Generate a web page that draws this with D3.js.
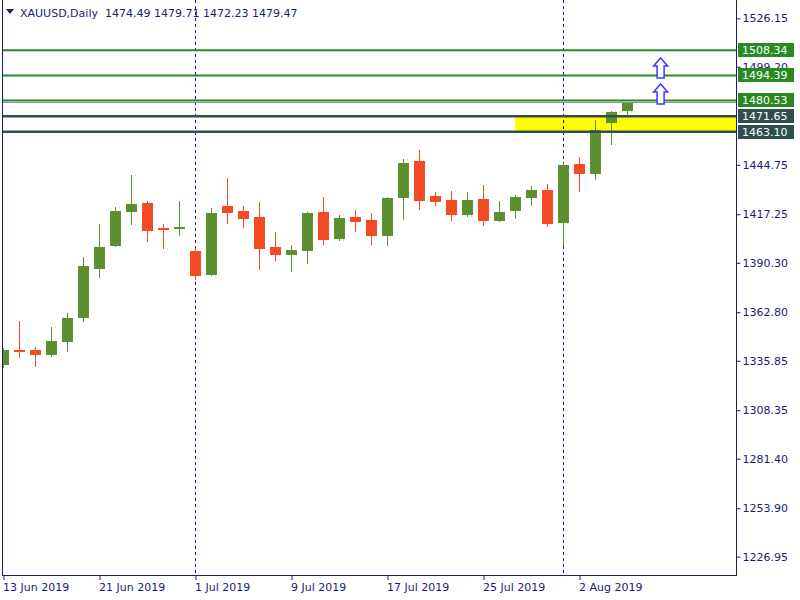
<!DOCTYPE html>
<html>
<head>
<meta charset="utf-8">
<script src="https://cdn.jsdelivr.net/npm/d3@7"></script>
<style>
  html, body { margin: 0; padding: 0; background: #ffffff; }
  svg { display: block; }
  text { font-family: "DejaVu Sans", Verdana, sans-serif; font-size: 11px; }
</style>
</head>
<body>
<svg id="chart" width="800" height="600"></svg>
<script>
// ---------- DATA ----------
const symbolTitle = "XAUUSD,Daily";
const titleValues = ["1474.49", "1479.71", "1472.23", "1479.47"];

const dates = ["13 Jun","14 Jun","17 Jun","18 Jun","19 Jun","20 Jun","21 Jun","24 Jun","25 Jun","26 Jun",
  "27 Jun","28 Jun","1 Jul","2 Jul","3 Jul","4 Jul","5 Jul","8 Jul","9 Jul","10 Jul",
  "11 Jul","12 Jul","15 Jul","16 Jul","17 Jul","18 Jul","19 Jul","22 Jul","23 Jul","24 Jul",
  "25 Jul","26 Jul","29 Jul","30 Jul","31 Jul","1 Aug","2 Aug","5 Aug","6 Aug","7 Aug"];
const open  = [1333.5,1341.8,1341.8,1339.0,1346.3,1359.6,1386.8,1399.6,1418.5,1423.5,
  1409.6,1409.1,1396.8,1383.5,1421.8,1419.1,1415.7,1399.1,1394.6,1396.8,
  1418.5,1403.5,1415.7,1414.1,1405.2,1426.3,1446.8,1427.4,1425.2,1416.8,
  1425.7,1413.5,1419.1,1426.3,1430.7,1412.4,1445.2,1439.6,1467.9,1474.49];
const high  = [1342.9,1357.9,1343.5,1354.6,1362.4,1393.5,1411.8,1421.3,1439.1,1424.6,
  1411.8,1424.6,1398.5,1420.7,1437.4,1421.8,1424.1,1407.4,1400.2,1418.5,
  1426.8,1416.8,1419.6,1417.9,1426.8,1447.9,1452.9,1429.6,1430.2,1429.6,
  1433.5,1424.6,1428.0,1432.9,1434.1,1445.7,1449.0,1469.6,1474.6,1479.71];
const low   = [1331.9,1337.4,1332.4,1337.9,1340.7,1357.3,1381.8,1399.1,1411.3,1401.8,
  1398.0,1405.2,1380.7,1382.9,1411.8,1409.6,1386.3,1391.3,1385.2,1389.6,
  1400.2,1402.4,1407.4,1400.2,1399.6,1414.1,1419.6,1421.8,1413.5,1415.7,
  1410.7,1412.9,1414.6,1421.8,1410.2,1399.6,1429.6,1436.3,1455.7,1472.23];
const close = [1341.8,1340.7,1339.0,1346.8,1359.6,1388.5,1399.1,1419.1,1422.9,1407.9,
  1408.5,1410.2,1382.9,1417.9,1417.9,1414.6,1398.0,1394.6,1397.4,1417.9,
  1402.9,1415.2,1412.9,1405.2,1426.3,1445.7,1424.6,1424.1,1416.8,1425.2,
  1413.5,1418.5,1426.8,1430.7,1411.8,1444.6,1439.6,1464.0,1474.1,1479.47];

const yTickValues = [1526.15, 1499.20, 1444.75, 1417.25, 1390.30, 1362.80, 1335.85, 1308.35, 1281.40, 1253.90, 1226.95];
const xTickIndex  = [0, 6, 12, 18, 24, 30, 36];
const xTickLabels = ["13 Jun 2019", "21 Jun 2019", "1 Jul 2019", "9 Jul 2019", "17 Jul 2019", "25 Jul 2019", "2 Aug 2019"];
const separatorIndex = [12, 35];

const greenLevels = [1508.34, 1494.39, 1480.53];
const slateLevels = [1471.65, 1463.10];
const bidPrice = 1479.47;
const zoneTop = 1471.65, zoneBottom = 1463.10, zoneStartIndex = 32;
const arrowIndex = [41.1, 41.1];
const arrowTipPrice = [1504.1, 1489.7];

// ---------- SCALES ----------
const svg = d3.select("#chart");
const plotLeft = 2, plotRight = 736, plotBottom = 576;
const y = d3.scaleLinear().domain([1226.95, 1526.15]).range([556.7, 18.3]);
const x = d3.scaleLinear().domain([0, 39]).range([3, 627]);
const fg = "#1c1a78";
const bull = "#5b8f2f", bear = "#f34b24";

svg.append("defs").append("clipPath").attr("id", "plotClip")
  .append("rect").attr("x", plotLeft + 1).attr("y", 0)
  .attr("width", plotRight - plotLeft - 1).attr("height", plotBottom);

const plot = svg.append("g").attr("clip-path", "url(#plotClip)");

// yellow zone
plot.append("rect")
  .attr("x", Math.round(x(zoneStartIndex)))
  .attr("y", y(zoneTop))
  .attr("width", plotRight - Math.round(x(zoneStartIndex)))
  .attr("height", y(zoneBottom) - y(zoneTop))
  .attr("fill", "#ffff00");

// period separators
plot.selectAll("line.sep").data(separatorIndex).join("line")
  .attr("class", "sep")
  .attr("x1", d => Math.round(x(d)) + 0.5).attr("x2", d => Math.round(x(d)) + 0.5)
  .attr("y1", 0).attr("y2", plotBottom)
  .attr("stroke", fg).attr("stroke-width", 1).attr("stroke-dasharray", "3,3");

// candles
const idx = d3.range(dates.length);
const cg = plot.append("g");
cg.selectAll("rect.wick").data(idx).join("rect")
  .attr("class", "wick")
  .attr("x", i => Math.round(x(i)))
  .attr("width", 1)
  .attr("y", i => Math.round(y(high[i])))
  .attr("height", i => Math.max(1, Math.round(y(low[i])) - Math.round(y(high[i]))))
  .attr("fill", i => close[i] >= open[i] ? bull : bear);
cg.selectAll("rect.body").data(idx).join("rect")
  .attr("class", "body")
  .attr("x", i => Math.round(x(i)) - 5)
  .attr("width", 11)
  .attr("y", i => Math.round(y(Math.max(open[i], close[i]))))
  .attr("height", i => Math.max(2, Math.round(y(Math.min(open[i], close[i]))) - Math.round(y(Math.max(open[i], close[i])))))
  .attr("fill", i => close[i] >= open[i] ? bull : bear);

// level lines
plot.selectAll("line.glev").data(greenLevels).join("line")
  .attr("x1", plotLeft).attr("x2", plotRight)
  .attr("y1", d => y(d)).attr("y2", d => y(d))
  .attr("stroke", "#2a8a22").attr("stroke-width", 2);
plot.append("line")
  .attr("x1", plotLeft).attr("x2", plotRight)
  .attr("y1", Math.round(y(bidPrice)) + 0.5).attr("y2", Math.round(y(bidPrice)) + 0.5)
  .attr("stroke", "#8a94a0").attr("stroke-width", 1);
plot.selectAll("line.slev").data(slateLevels).join("line")
  .attr("x1", plotLeft).attr("x2", plotRight)
  .attr("y1", d => y(d)).attr("y2", d => y(d))
  .attr("stroke", "#2f4f4f").attr("stroke-width", 2.5);

// arrows
const arrowPath = "M0,0 L7,8 L3.5,8 L3.5,20 L-3.5,20 L-3.5,8 L-7,8 Z";
plot.selectAll("path.arrow").data(d3.range(arrowIndex.length)).join("path")
  .attr("d", arrowPath)
  .attr("transform", i => `translate(${x(arrowIndex[i])},${y(arrowTipPrice[i])})`)
  .attr("fill", "#ffffff").attr("stroke", "#3a3aff").attr("stroke-width", 1.5)
  .attr("stroke-linejoin", "miter");

// frame
svg.append("line").attr("x1", plotLeft + 0.5).attr("x2", plotLeft + 0.5).attr("y1", 0).attr("y2", plotBottom)
  .attr("stroke", fg);
svg.append("line").attr("x1", plotRight + 0.5).attr("x2", plotRight + 0.5).attr("y1", 0).attr("y2", plotBottom)
  .attr("stroke", fg);
svg.append("line").attr("x1", plotLeft).attr("x2", plotRight + 1).attr("y1", plotBottom - 0.5).attr("y2", plotBottom - 0.5)
  .attr("stroke", fg);

// right axis
const yAxis = d3.axisRight(y).tickValues(yTickValues).tickSize(4).tickPadding(2)
  .tickFormat(d => d.toFixed(2));
const ya = svg.append("g").attr("transform", `translate(${plotRight + 0.5},0)`).call(yAxis);
ya.select(".domain").remove();
ya.selectAll("line").attr("stroke", fg);
ya.selectAll("text").attr("fill", fg).style("font-size", "11px").attr("font-family", "DejaVu Sans");

// bottom axis
const xAxis = d3.axisBottom(x).tickValues(xTickIndex).tickSize(4).tickPadding(3)
  .tickFormat((d, i) => xTickLabels[i]);
const xa = svg.append("g").attr("transform", `translate(0.5,${plotBottom})`).call(xAxis);
xa.select(".domain").remove();
xa.selectAll("line").attr("stroke", fg);
xa.selectAll("text").attr("fill", fg).attr("text-anchor", "start").attr("x", -1)
  .style("font-size", "11px").attr("font-family", "DejaVu Sans");

// price labels
const labels = greenLevels.map(v => ({v, c: "#2a8a22"})).concat(slateLevels.map(v => ({v, c: "#2f4f4f"})));
const lg = svg.append("g");
lg.selectAll("rect").data(labels).join("rect")
  .attr("x", 738).attr("width", 56)
  .attr("y", d => Math.round(y(d.v)) - 7).attr("height", 14)
  .attr("fill", d => d.c);
lg.selectAll("text").data(labels).join("text")
  .attr("x", 742).attr("y", d => Math.round(y(d.v)))
  .attr("dy", "0.36em")
  .attr("fill", "#ffffff")
  .text(d => d.v.toFixed(2));

// title
svg.append("path").attr("d", "M6,9 L14,9 L10,14 Z").attr("fill", fg);
svg.append("text").attr("x", 20).attr("y", 17).attr("fill", fg)
  .text(symbolTitle + "  " + titleValues.join(" "))
  .attr("xml:space", "preserve");
</script>
</body>
</html>
